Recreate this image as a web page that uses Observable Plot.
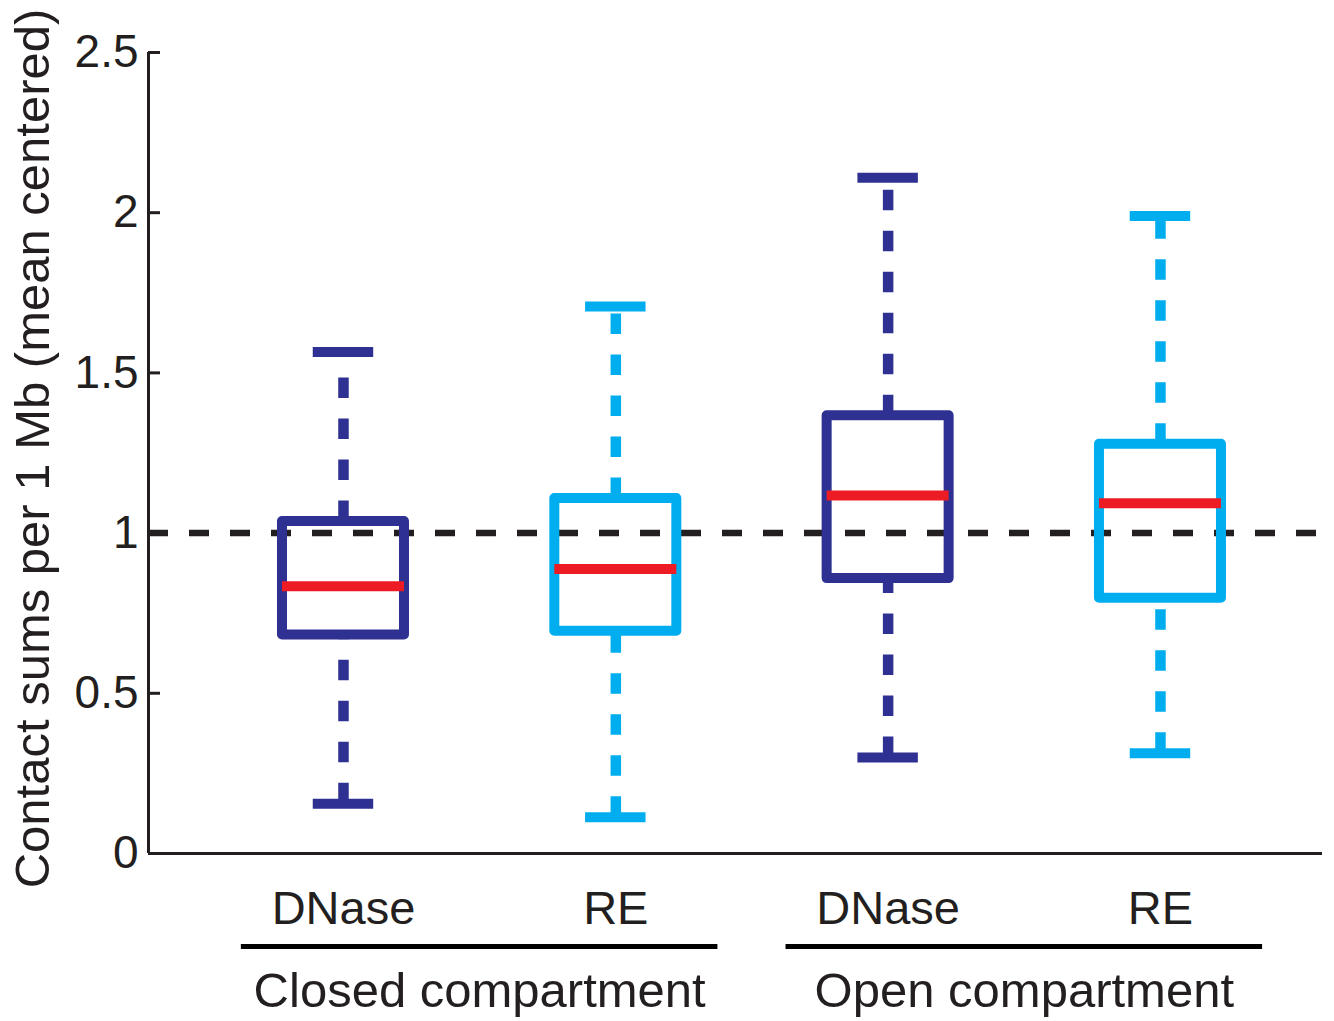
<!DOCTYPE html>
<html>
<head>
<meta charset="utf-8">
<script src="https://cdn.jsdelivr.net/npm/d3@7"></script>
<script src="https://cdn.jsdelivr.net/npm/@observablehq/plot@0.6"></script>
<style>
  html, body { margin: 0; padding: 0; background: #fff; }
</style>
</head>
<body>
<script>
// Box-plot summaries of contact sums per 1 Mb (mean centered)
const categories = ["DNase", "RE", "DNase", "RE"];
const compartments = ["Closed compartment", "Closed compartment", "Open compartment", "Open compartment"];
const whiskerLow = [0.155, 0.113, 0.300, 0.313];
const lowerQuartile = [0.682, 0.694, 0.858, 0.797];
const medians = [0.834, 0.888, 1.117, 1.093];
const upperQuartile = [1.036, 1.108, 1.366, 1.277];
const whiskerHigh = [1.565, 1.707, 2.109, 1.990];
const yTicks = [0, 0.5, 1, 1.5, 2, 2.5];
const referenceLevel = 1;
const yLabel = "Contact sums per 1 Mb (mean centered)";

// styling
const seriesColor = {DNase: "#2E3192", RE: "#00AEEF"};
const medianColor = "#ED1C24";
const ink = "#231F20";
const boxHalf = 0.224;   // half box width, in x units
const capHalf = 0.111;   // half whisker-cap width
const groupHalf = 0.875; // half width of the compartment underline
const xDomain = [0.284, 4.595];

const boxes = categories.map((c, i) => ({
  pos: i + 1,
  category: c,
  compartment: compartments[i],
  lo: whiskerLow[i],
  q1: lowerQuartile[i],
  med: medians[i],
  q3: upperQuartile[i],
  hi: whiskerHigh[i],
  color: seriesColor[c]
}));

const groups = Array.from(d3.group(boxes, d => d.compartment), ([name, rows]) => ({
  name,
  center: d3.mean(rows, d => d.pos)
}));

const W = 1334, H = 1021;
const mL = 148, mR = 12, mT = 52, mB = 168;
const frameW = W - mL - mR;

const chart = Plot.plot({
  width: W,
  height: H,
  marginLeft: mL,
  marginRight: mR,
  marginTop: mT,
  marginBottom: mB,
  style: {fontFamily: "'Liberation Sans', Arial, Helvetica, sans-serif", color: ink, background: "#fff"},
  x: {domain: xDomain, axis: null},
  y: {domain: [0, 2.5], label: null},
  marks: [
    // reference line at the mean
    Plot.ruleY([referenceLevel], {stroke: ink, strokeWidth: 6.5, strokeDasharray: "20,21"}),
    // dashed whiskers
    Plot.ruleX(boxes, {x: "pos", y1: "lo", y2: "q1", stroke: "color", strokeWidth: 10.5, strokeDasharray: "20.5,20.5"}),
    Plot.ruleX(boxes, {x: "pos", y1: "q3", y2: "hi", stroke: "color", strokeWidth: 10.5, strokeDasharray: "20.5,20.5"}),
    // whisker caps
    Plot.ruleY(boxes, {y: "lo", x1: d => d.pos - capHalf, x2: d => d.pos + capHalf, stroke: "color", strokeWidth: 10}),
    Plot.ruleY(boxes, {y: "hi", x1: d => d.pos - capHalf, x2: d => d.pos + capHalf, stroke: "color", strokeWidth: 10}),
    // interquartile boxes
    Plot.rect(boxes, {
      x1: d => d.pos - boxHalf, x2: d => d.pos + boxHalf,
      y1: "q1", y2: "q3",
      fill: "none", stroke: "color", strokeWidth: 10, strokeLinejoin: "round"
    }),
    // medians
    Plot.ruleY(boxes, {y: "med", x1: d => d.pos - boxHalf, x2: d => d.pos + boxHalf, stroke: medianColor, strokeWidth: 10}),
    // axis lines and inward ticks
    Plot.ruleX([xDomain[0]], {y1: 0, y2: 2.5, stroke: ink, strokeWidth: 3}),
    Plot.ruleY([0], {stroke: ink, strokeWidth: 3}),
    Plot.tickY(yTicks, {y: d => d, insetRight: frameW - 12, stroke: ink, strokeWidth: 3}),
    Plot.axisY({ticks: yTicks, tickSize: 0, tickPadding: 10, fontSize: 46, label: null, tickFormat: d => String(d)}),
    // y-axis title
    Plot.text([yLabel], {frameAnchor: "left", dx: -115, dy: -4.5, rotate: -90, textAnchor: "middle", fontSize: 49, lineAnchor: "middle", fill: ink}),
    // category labels
    Plot.text(boxes, {x: "pos", text: "category", frameAnchor: "bottom", dy: 70, lineAnchor: "bottom", fontSize: 47, fill: ink}),
    // compartment underlines and labels
    Plot.ruleY(groups, {y: () => 0, x1: d => d.center - groupHalf, x2: d => d.center + groupHalf, dy: 93, stroke: "#000", strokeWidth: 5}),
    Plot.text(groups, {x: "center", text: "name", frameAnchor: "bottom", dy: 153, lineAnchor: "bottom", fontSize: 49, fill: ink})
  ]
});

document.body.appendChild(chart);
</script>
</body>
</html>
